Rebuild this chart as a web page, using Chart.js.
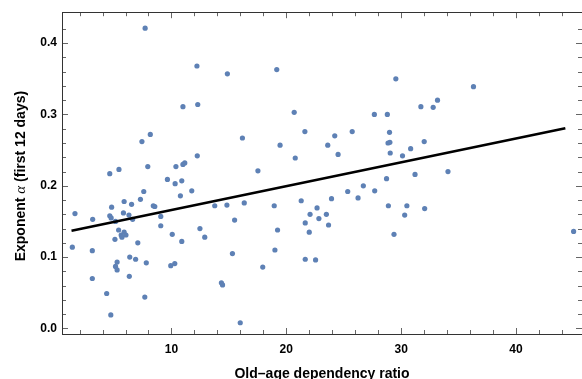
<!DOCTYPE html>
<html>
<head>
<meta charset="utf-8">
<script src="https://cdn.jsdelivr.net/npm/chart.js@4.4.1/dist/chart.umd.min.js"></script>
<style>
  html, body { margin: 0; padding: 0; background: #fff; overflow: hidden; }
  #wrap { position: absolute; left: 0; top: 0; width: 586px; height: 379px; }
</style>
</head>
<body>
<div id="wrap"><canvas id="chart"></canvas></div>
<script>
// old-age dependency ratio per country
const ratio = [
  1.60, 1.37, 3.14, 3.11, 3.11, 4.36, 4.72, 4.63, 4.79, 4.63,
  4.75, 5.13, 5.08, 5.13, 5.27, 5.27, 5.40, 5.43, 5.62, 5.69,
  5.82, 5.88, 5.88, 6.04, 6.30, 6.33, 6.37, 6.53, 6.62, 6.88,
  7.07, 7.30, 7.43, 7.59, 7.68, 7.71, 7.81, 7.94, 8.16, 8.42,
  8.55, 9.07, 9.07, 9.65, 9.94, 10.07, 10.29, 10.32, 10.39, 10.78,
  10.90, 10.90, 11.00, 11.00, 11.16, 11.77, 12.22, 12.29, 12.25, 12.48,
  12.90, 13.77, 14.35, 14.45, 14.87, 14.83, 15.31, 15.50, 15.99, 16.18,
  16.34, 17.53, 17.95, 18.95, 19.01, 19.17, 19.24, 19.46, 20.69, 20.78,
  21.30, 21.62, 21.65, 21.65, 22.00, 22.07, 22.55, 22.68, 22.84, 23.49,
  23.61, 23.68, 23.94, 24.22, 24.51, 25.35, 25.74, 26.25, 26.71, 27.67,
  27.70, 28.73, 28.80, 28.89, 28.86, 29.02, 28.99, 29.05, 29.38, 29.54,
  30.12, 30.31, 30.50, 30.83, 31.21, 31.72, 32.01, 32.05, 32.79, 33.17,
  34.08, 36.30, 45.02
];
// fitted exponent alpha over the first 12 days
const alpha = [
  0.161, 0.114, 0.153, 0.109, 0.070, 0.049, 0.019, 0.217, 0.170, 0.158,
  0.155, 0.150, 0.125, 0.087, 0.093, 0.082, 0.138, 0.223, 0.131, 0.128,
  0.162, 0.178, 0.135, 0.131, 0.159, 0.073, 0.100, 0.174, 0.153, 0.097,
  0.120, 0.181, 0.262, 0.192, 0.044, 0.421, 0.092, 0.227, 0.272, 0.172,
  0.171, 0.157, 0.144, 0.209, 0.088, 0.132, 0.091, 0.203, 0.227, 0.186,
  0.207, 0.122, 0.311, 0.230, 0.232, 0.193, 0.368, 0.314, 0.242, 0.140,
  0.128, 0.172, 0.064, 0.061, 0.357, 0.173, 0.105, 0.152, 0.008, 0.267,
  0.176, 0.221, 0.086, 0.172, 0.110, 0.363, 0.138, 0.257, 0.303, 0.239,
  0.179, 0.276, 0.148, 0.097, 0.135, 0.160, 0.096, 0.169, 0.154, 0.160,
  0.257, 0.145, 0.182, 0.270, 0.244, 0.192, 0.276, 0.183, 0.200, 0.300,
  0.193, 0.210, 0.300, 0.172, 0.260, 0.261, 0.275, 0.246, 0.132, 0.350,
  0.242, 0.159, 0.172, 0.252, 0.216, 0.311, 0.262, 0.168, 0.310, 0.320,
  0.220, 0.339, 0.136
];
// linear fit, end points
const fitX = [1.3, 44.3];
const fitY = [0.1371, 0.2807];

const xMajor = [10, 20, 30, 40];
const xMinor = [2, 4, 6, 8, 12, 14, 16, 18, 22, 24, 26, 28, 32, 34, 36, 38, 42, 44];
const yMajor = [0, 0.1, 0.2, 0.3, 0.4];
const yMinor = [0.02, 0.04, 0.06, 0.08, 0.12, 0.14, 0.16, 0.18, 0.22, 0.24, 0.26, 0.28, 0.32, 0.34, 0.36, 0.38, 0.42];

const points = ratio.map((x, i) => ({ x: x, y: alpha[i] }));
const fitLine = fitX.map((x, i) => ({ x: x, y: fitY[i] }));

const FONT = '"Liberation Sans", Arial, sans-serif';

// frame with inward ticks on all four sides, plus the axis titles
const framePlugin = {
  id: 'frame',
  afterDraw(chart) {
    const { ctx, chartArea: a, scales } = chart;
    const xs = scales.x, ys = scales.y;
    ctx.save();
    ctx.strokeStyle = '#666';
    ctx.lineWidth = 1;
    ctx.beginPath();
    const tick = (vals, len) => {
      vals.forEach(v => {
        const px = Math.round(xs.getPixelForValue(v)) + 0.5;
        ctx.moveTo(px, a.bottom); ctx.lineTo(px, a.bottom - len);
        ctx.moveTo(px, a.top); ctx.lineTo(px, a.top + len);
      });
    };
    const tickY = (vals, len) => {
      vals.forEach(v => {
        const py = Math.round(ys.getPixelForValue(v)) + 0.5;
        ctx.moveTo(a.left, py); ctx.lineTo(a.left + len, py);
        ctx.moveTo(a.right, py); ctx.lineTo(a.right - len, py);
      });
    };
    tick(xMajor, 6); tick(xMinor, 4);
    tickY(yMajor, 6); tickY(yMinor, 4);
    ctx.stroke();

    ctx.strokeStyle = '#333';
    ctx.strokeRect(Math.round(a.left) + 0.5, Math.round(a.top) + 0.5,
      Math.round(a.right - a.left), Math.round(a.bottom - a.top));

    // x title
    ctx.fillStyle = '#000';
    ctx.font = 'bold 14px ' + FONT;
    ctx.textAlign = 'center';
    ctx.textBaseline = 'middle';
    ctx.fillText('Old\u2013age dependency ratio', (a.left + a.right) / 2, 374);

    // y title, rotated, with an italic alpha
    const parts = [
      ['Exponent ', 'bold 14px ' + FONT],
      ['\u03b1', 'italic 15px "Liberation Serif", "DejaVu Serif", serif'],
      [' (first 12 days)', 'bold 14px ' + FONT]
    ];
    let total = 0;
    parts.forEach(p => { ctx.font = p[1]; total += ctx.measureText(p[0]).width; });
    ctx.translate(21, (a.top + a.bottom) / 2 + 3);
    ctx.rotate(-Math.PI / 2);
    ctx.textAlign = 'left';
    let cx = -total / 2;
    parts.forEach(p => {
      ctx.font = p[1];
      ctx.fillText(p[0], cx, 0);
      cx += ctx.measureText(p[0]).width;
    });
    ctx.restore();
  }
};

new Chart(document.getElementById('chart'), {
  type: 'scatter',
  data: {
    datasets: [
      {
        data: points,
        backgroundColor: '#5e81b5',
        borderWidth: 0,
        pointRadius: 2.6,
        order: 2
      },
      {
        type: 'line',
        data: fitLine,
        borderColor: '#000',
        borderWidth: 2.6,
        pointRadius: 0,
        fill: false,
        order: 1
      }
    ]
  },
  options: {
    responsive: true,
    maintainAspectRatio: false,
    animation: false,
    layout: { padding: { top: 12, right: 2, left: 0, bottom: 0 } },
    plugins: { legend: { display: false }, tooltip: { enabled: false } },
    scales: {
      x: {
        type: 'linear',
        min: 0.47,
        max: 45.75,
        afterFit(s) { s.height = 45; },
        afterBuildTicks(s) { s.ticks = xMajor.map(v => ({ value: v })); },
        grid: { display: false, drawTicks: false },
        border: { display: false },
        ticks: {
          padding: 8,
          color: '#000',
          font: { family: FONT, size: 12, weight: 'bold' },
          maxRotation: 0
        }
      },
      y: {
        type: 'linear',
        min: -0.0078,
        max: 0.4434,
        afterFit(s) { s.width = 62; },
        afterBuildTicks(s) { s.ticks = yMajor.map(v => ({ value: v })); },
        grid: { display: false, drawTicks: false },
        border: { display: false },
        ticks: {
          padding: 5,
          color: '#000',
          font: { family: FONT, size: 12, weight: 'bold' },
          callback: v => v.toFixed(1)
        }
      }
    }
  },
  plugins: [framePlugin]
});
</script>
</body>
</html>
